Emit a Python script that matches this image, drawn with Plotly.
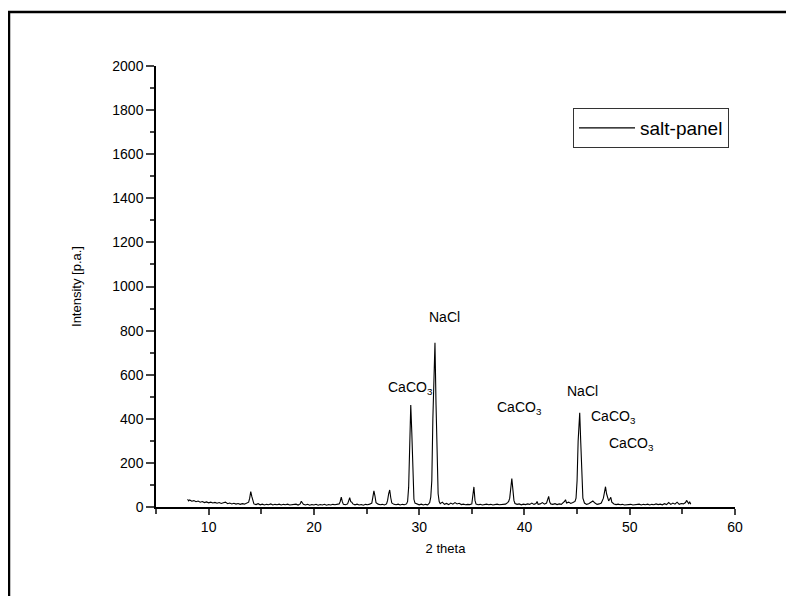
import plotly.graph_objects as go

# ---- data ----
two_theta = [
    8.0, 8.1, 8.2, 8.4, 8.6, 8.8, 9.0, 9.2, 9.4, 9.6, 9.8, 10.0, 10.2, 10.4, 10.6, 10.8,
    11.0, 11.2, 11.4, 11.6, 11.8, 12.0, 12.2, 12.4, 12.6, 12.8, 13.0, 13.2, 13.4, 13.6,
    13.8, 13.9, 14.0, 14.1, 14.2, 14.3, 14.5, 14.7, 14.9, 15.1, 15.3, 15.5, 15.7, 15.9,
    16.1, 16.3, 16.5, 16.7, 16.9, 17.1, 17.3, 17.5, 17.7, 17.9, 18.1, 18.3, 18.5, 18.7,
    18.8, 18.9, 19.0, 19.2, 19.4, 19.6, 19.8, 20.0, 20.2, 20.4, 20.6, 20.8, 21.0, 21.2,
    21.4, 21.6, 21.8, 22.0, 22.2, 22.4, 22.5, 22.6, 22.7, 22.8, 23.0, 23.2, 23.3, 23.4,
    23.5, 23.6, 23.7, 23.9, 24.1, 24.3, 24.5, 24.7, 24.9, 25.1, 25.3, 25.5, 25.6, 25.7,
    25.8, 25.9, 26.1, 26.3, 26.5, 26.7, 26.9, 27.0, 27.1, 27.2, 27.3, 27.4, 27.6, 27.8,
    28.0, 28.2, 28.4, 28.6, 28.8, 28.9, 29.0, 29.1, 29.2, 29.3, 29.4, 29.5, 29.6, 29.8,
    30.0, 30.2, 30.4, 30.6, 30.8, 30.9, 31.0, 31.1, 31.2, 31.3, 31.5, 31.6, 31.7, 31.8,
    31.9, 32.0, 32.2, 32.4, 32.6, 32.8, 33.0, 33.2, 33.4, 33.6, 33.8, 34.0, 34.2, 34.4,
    34.6, 34.8, 35.0, 35.1, 35.2, 35.3, 35.4, 35.6, 35.8, 36.0, 36.2, 36.4, 36.6, 36.8,
    37.0, 37.2, 37.4, 37.6, 37.8, 38.0, 38.2, 38.4, 38.5, 38.6, 38.7, 38.8, 38.9, 39.0,
    39.1, 39.3, 39.5, 39.7, 39.9, 40.1, 40.3, 40.5, 40.7, 40.9, 41.1, 41.2, 41.3, 41.5,
    41.7, 41.9, 42.1, 42.2, 42.3, 42.4, 42.5, 42.7, 42.9, 43.1, 43.3, 43.5, 43.7, 43.8,
    43.9, 44.0, 44.2, 44.4, 44.6, 44.8, 44.9, 45.0, 45.1, 45.25, 45.35, 45.45, 45.55,
    45.7, 45.9, 46.1, 46.3, 46.5, 46.7, 46.9, 47.1, 47.3, 47.5, 47.6, 47.7, 47.8, 47.9,
    48.0, 48.1, 48.2, 48.3, 48.5, 48.7, 48.9, 49.1, 49.3, 49.5, 49.7, 49.9, 50.1, 50.3,
    50.5, 50.7, 50.9, 51.1, 51.3, 51.5, 51.7, 51.9, 52.1, 52.3, 52.5, 52.7, 52.9, 53.1,
    53.3, 53.5, 53.7, 53.9, 54.1, 54.3, 54.5, 54.7, 54.9, 55.1, 55.3, 55.4, 55.5, 55.6,
    55.7, 55.8,
]
intensity = [
    35, 28, 32, 26, 29, 24, 27, 22, 25, 20, 23, 19, 22, 18, 21, 17,
    20, 16, 19, 22, 15, 18, 14, 17, 13, 16, 12, 15, 13, 16,
    22, 40, 70, 48, 22, 14, 11, 15, 10, 13, 9, 12, 10, 14,
    9, 12, 10, 13, 9, 12, 10, 13, 9, 11, 10, 13, 9, 14,
    26, 20, 12, 9, 12, 8, 11, 9, 12, 8, 11, 9, 12, 8,
    11, 9, 12, 10, 13, 14, 25, 45, 24, 12, 10, 14, 28, 42,
    24, 22, 14, 10, 13, 9, 11, 8, 12, 10, 13, 18, 45, 73,
    50, 20, 13, 10, 12, 9, 14, 30, 60, 77, 42, 18, 12, 10,
    13, 9, 12, 10, 14, 25, 90, 300, 462, 337, 120, 35, 18, 12,
    10, 13, 9, 12, 10, 14, 20, 45, 120, 400, 745, 465, 180, 60,
    25, 15, 22, 12, 16, 11, 18, 13, 20, 14, 17, 11, 13, 10,
    12, 11, 14, 50, 91, 30, 13, 10, 12, 9, 11, 13, 10, 12,
    9, 11, 13, 10, 12, 14, 13, 20, 25, 40, 95, 129, 80, 30,
    16, 12, 14, 10, 13, 11, 14, 12, 18, 12, 16, 25, 12, 14,
    20, 13, 18, 30, 48, 22, 14, 12, 15, 11, 14, 12, 20, 25,
    33, 18, 22, 16, 20, 25, 40, 120, 300, 427, 290, 120, 40,
    18, 12, 15, 20, 27, 18, 12, 14, 18, 40, 70, 92, 60, 35,
    28, 35, 44, 22, 14, 11, 13, 10, 12, 9, 11, 10, 12, 9,
    11, 10, 13, 9, 12, 10, 13, 9, 12, 10, 14, 11, 13, 10,
    15, 11, 20, 12, 18, 13, 22, 12, 16, 14, 20, 30, 24, 16,
    22, 12,
]
series_name = "salt-panel"
x_tick_values = [10, 20, 30, 40, 50, 60]
y_tick_values = [0, 200, 400, 600, 800, 1000, 1200, 1400, 1600, 1800, 2000]

label_texts = ["NaCl", "CaCO<sub>3</sub>", "CaCO<sub>3</sub>", "NaCl", "CaCO<sub>3</sub>", "CaCO<sub>3</sub>"]
label_x = [32.45, 29.15, 39.5, 45.55, 48.5, 50.15]
label_y = [860, 540, 450, 525, 408, 288]

# ---- layout geometry (pixels, figure coordinates) ----
W, H = 794, 596
L, R, T, B = 148, 67, 58, 97
pw, ph = W - L - R, H - T - B


def px(xp):
    return (xp - L) / pw


def py(yp):
    return (H - B - yp) / ph


FONT = "Liberation Sans, Arial, sans-serif"

fig = go.Figure()
fig.add_trace(go.Scatter(x=two_theta, y=intensity, mode="lines", name=series_name,
                         line=dict(color="black", width=1.1)))

for t, xv, yv in zip(label_texts, label_x, label_y):
    fig.add_annotation(x=xv, y=yv, text=t, showarrow=False,
                       font=dict(family=FONT, size=14, color="black"))

# outer page frame (top and left)
fig.add_shape(type="path", xref="paper", yref="paper",
              path=f"M {px(1)} {py(620)} L {px(1)} {py(4)} L {px(820)} {py(4)}",
              line=dict(color="black", width=2.5))

fig.update_layout(
    width=W, height=H,
    margin=dict(l=L, r=R, t=T, b=B),
    paper_bgcolor="white", plot_bgcolor="white",
    font=dict(family=FONT, size=14, color="black"),
    showlegend=True,
    legend=dict(x=px(565), y=py(100), xanchor="left", yanchor="top",
                bordercolor="#333", borderwidth=1, bgcolor="white",
                font=dict(family=FONT, size=19, color="black"),
                itemwidth=56, tracegroupgap=0),
    xaxis=dict(range=[5, 60], tickvals=x_tick_values, ticks="outside", ticklen=6,
               tickwidth=1.5, showline=True, linecolor="black", linewidth=1.5,
               showgrid=False, zeroline=False,
               minor=dict(tick0=5, dtick=5, ticks="outside", ticklen=5, tickwidth=1.5,
                          showgrid=False),
               title=dict(text="2 theta", font=dict(size=13), standoff=10),
               tickfont=dict(size=14)),
    yaxis=dict(range=[0, 2000], tickvals=y_tick_values, ticks="outside", ticklen=8,
               tickwidth=1.5, showline=True, linecolor="black", linewidth=1.5,
               showgrid=False, zeroline=False,
               minor=dict(tick0=0, dtick=100, ticks="outside", ticklen=4, tickwidth=1.5,
                          showgrid=False),
               title=dict(text="Intensity [p.a.]", font=dict(size=13), standoff=28),
               tickfont=dict(size=14)),
)

fig.write_html("out.html")
